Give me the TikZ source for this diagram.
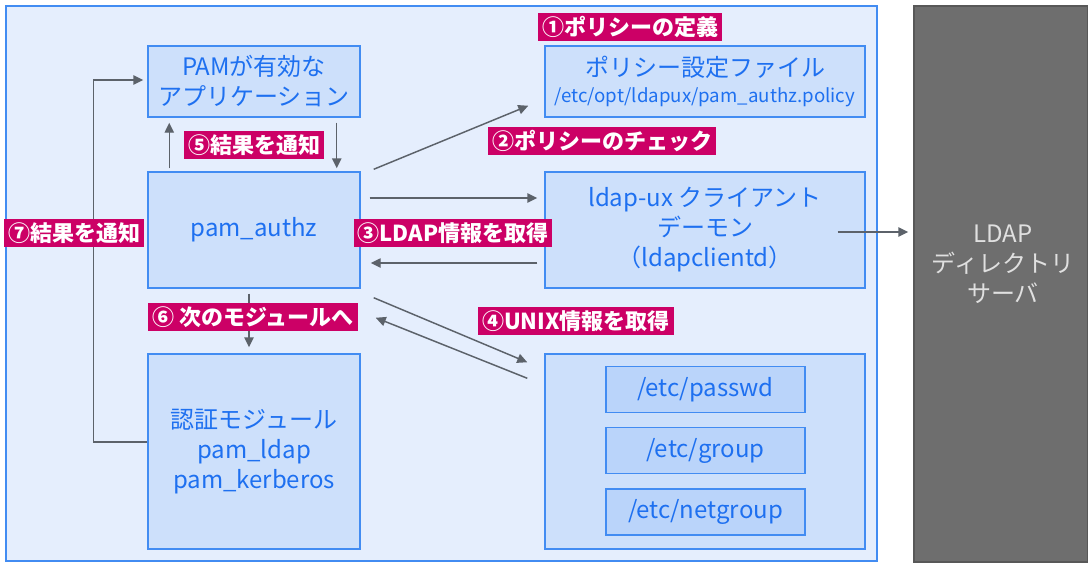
\documentclass[tikz,border=0pt]{standalone}
\usepackage{fontspec}
\setmainfont{Noto Sans CJK JP}
\usepackage{tikz}
\usetikzlibrary{arrows.meta}
\usetikzlibrary{calc}

\definecolor{panelfill}{RGB}{229,238,253}
\definecolor{boxfill}{RGB}{205,224,251}
\definecolor{filefill}{RGB}{186,212,250}
\definecolor{boxline}{RGB}{66,140,242}
\definecolor{boxtext}{RGB}{30,112,240}
\definecolor{tagfill}{RGB}{204,0,102}
\definecolor{arrowgray}{RGB}{92,98,106}
\definecolor{serverfill}{RGB}{110,110,110}
\definecolor{serverline}{RGB}{88,88,88}
\definecolor{servertext}{RGB}{224,224,224}

\begin{document}
\begin{tikzpicture}[x=0.75pt,y=0.75pt,yscale=-1,xscale=1,
  box/.style={draw=boxline, fill=boxfill, line width=1.1pt, inner sep=0pt, text=boxtext, align=center, font=\fontsize{18pt}{22.5pt}\selectfont},
  filebox/.style={box, fill=filefill, minimum width=149.25pt, minimum height=34.5pt},
  tag/.style={fill=tagfill, text=white, inner xsep=3pt, inner ysep=0pt, minimum height=21pt, font=\bfseries\fontsize{16.5pt}{20pt}\selectfont},
  arr/.style={draw=arrowgray, line width=1.1pt, -{Triangle[length=7.5pt,width=7pt]}}]
\useasboundingbox (0,0) rectangle (1088,562);

%Shape: Rectangle [panel]
\draw [draw=boxline, fill=panelfill, line width=1.1pt] (6,6) rectangle (877,561) ;
%Shape: Rectangle [server]
\node [draw=serverline, fill=serverfill, line width=1.1pt, minimum width=130.5pt, minimum height=417pt, inner sep=0pt] (server) at (1001,284) {};
% Text Node
\node [text=servertext, align=center, font=\fontsize{18pt}{22.5pt}\selectfont] (serverlbl) at (1003,264) {LDAP\\ディレクトリ\\サーバ};

%Shape: Rectangle [left column]
\node [box, minimum width=159pt, minimum height=53.25pt] (pam) at (254,81.5) {PAMが有効な\\アプリケーション};
\node [box, minimum width=159pt, minimum height=87pt] (authz) at (254,230) {pam\_authz};
\node [box, minimum width=159pt, minimum height=146.25pt] (auth) at (254,451.5) {認証モジュール\\pam\_ldap\\pam\_kerberos};

%Shape: Rectangle [right column]
\node [box, minimum width=240pt, minimum height=53.25pt] (policy) at (705,81.5) {ポリシー設定ファイル\\[-3pt]{\fontsize{14pt}{16pt}\selectfont /etc/opt/ldapux/pam\_authz.policy}};
\node [box, minimum width=240pt, minimum height=87pt] (daemon) at (705,230) {ldap-ux クライアント\\デーモン\\（ldapclientd）};
\node [box, minimum width=240pt, minimum height=146.25pt] (unix) at (705,451.5) {};
\node [filebox] (passwd) at (705.5,389.5) {/etc/passwd};
\node [filebox] (group) at (705.5,450.5) {/etc/group};
\node [filebox] (netgroup) at (705.5,512) {/etc/netgroup};

%Straight Lines
\draw [arr] ($(auth.west)+(0,-9.5)$) -| ($(pam.west)+(-54,-1.5)$) -- ($(pam.west)+(-4,-1.5)$) ;
\draw [arr] ($(authz.north west)+(22,-3)$) -- ($(pam.south west)+(22,5)$) ;
\draw [arr] ($(pam.south east)+(-24,5)$) -- ($(authz.north east)+(-24,-3)$) ;
\draw [arr] ($(authz.north east)+(13,-2)$) -- ($(policy.south west)+(-16,-12)$) ;
\draw [arr] ($(authz.east)+(9,-32)$) -- ($(daemon.west)+(-7,-32)$) ;
\draw [arr] ($(daemon.west)+(-7,33)$) -- ($(authz.east)+(10,33)$) ;
\draw [arr] ($(daemon.east)+(-28,2)$) -- ($(server.west)+(-5,-52)$) ;
\draw [arr] ($(authz.south)+(-5,5)$) -- ($(auth.north)+(-5,-6)$) ;
\draw [arr] ($(authz.south east)+(13,9)$) -- ($(unix.north west)+(-17,9)$) ;
\draw [arr] ($(unix.north west)+(-17,25)$) -- ($(authz.south east)+(15,29)$) ;

% Text Node
\node [tag] (t1) at (630,27) {①ポリシーの定義};
\node [tag] (t2) at (602,141) {②ポリシーのチェック};
\node [tag] (t3) at (453,233) {③LDAP情報を取得};
\node [tag] (t4) at (576,321) {④UNIX情報を取得};
\node [tag] (t5) at (254,145) {⑤結果を通知};
\node [tag] (t6) at (253,317) {⑥ 次のモジュールへ};
\node [tag] (t7) at (74,233) {⑦結果を通知};

\end{tikzpicture}
\end{document}
